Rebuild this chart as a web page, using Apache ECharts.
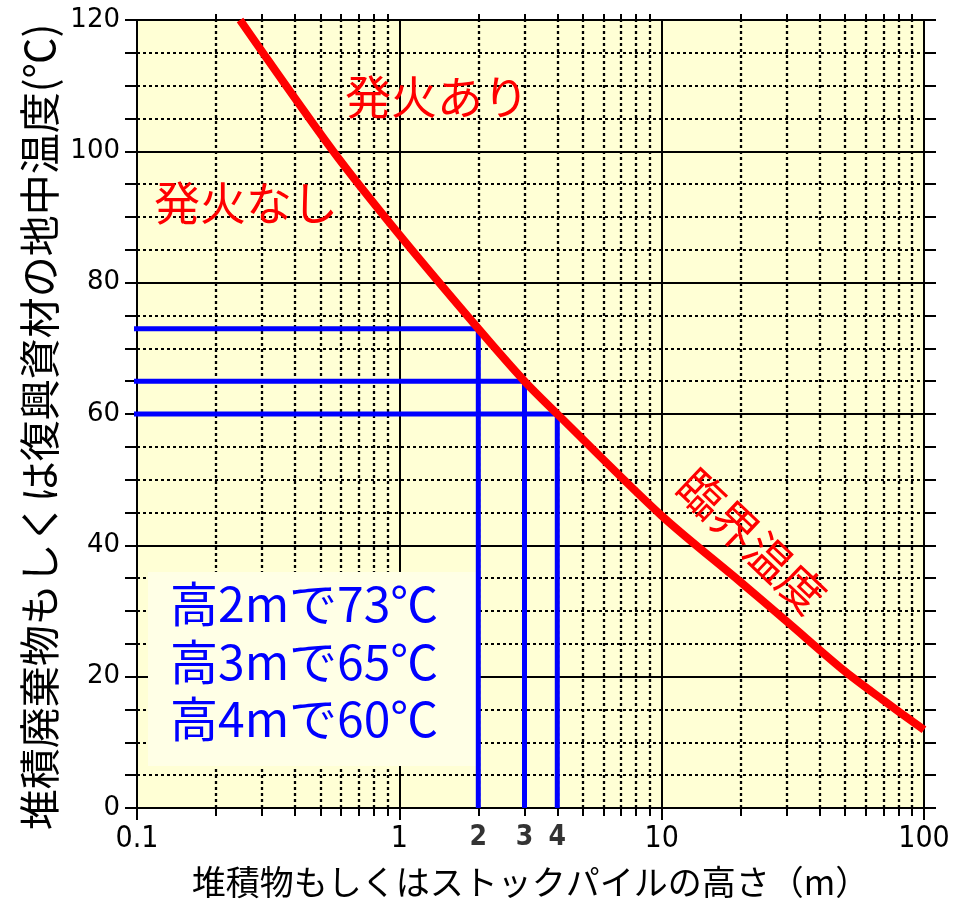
<!DOCTYPE html>
<html lang="ja">
<head>
<meta charset="utf-8">
<title>臨界温度</title>
<script src="https://cdn.jsdelivr.net/npm/echarts@6/dist/echarts.min.js"></script>
<style>
  html, body { margin: 0; padding: 0; background: #ffffff; }
  #chart { width: 961px; height: 905px; }
</style>
</head>
<body>
<div id="chart"></div>
<script>
// Critical temperature curve: pile height (m) vs. internal temperature (°C)
const curveHeight = [0.247, 0.56, 1, 2, 3, 4, 10, 20, 30, 50, 70, 100];
const curveTemp   = [120, 100, 87.3, 73, 65, 60, 44.5, 34.4, 28.4, 20.8, 16.4, 11.9];

// Highlighted pile heights and the temperature
const caseHeight = [2, 3, 4];
const caseTemp   = [73, 65, 60];
const caseLineStart = [0.0885, 0.0885, 0.0966];
const caseTickLabels = ['2', '3', '4'];

// Intermediate decade lines of the logarithmic height axis
const minorHeights = [0.2, 0.3, 0.4, 0.5, 0.6, 0.7, 0.8, 0.9,
                      2, 3, 4, 5, 6, 7, 8, 9,
                      20, 30, 40, 50, 60, 70, 80, 90];

const xTitle = '堆積物もしくはストックパイルの高さ（m）';
const yTitle = '堆積廃棄物もしくは復興資材の地中温度(℃)';
const labelIgnite = '発火あり';
const labelNoIgnite = '発火なし';
const labelCurve = '臨界温度';
const caseNotes = caseHeight.map((h, i) => '高' + h + 'mで' + caseTemp[i] + '℃');

const CJK = '"Noto Sans CJK JP", "Noto Sans", sans-serif';
const NARROW = '"Liberation Sans Narrow", "DejaVu Sans Condensed", "Liberation Sans", sans-serif';
const RED = '#ff0000';
const BLUE = '#0000ff';

const chart = echarts.init(document.getElementById('chart'), null, { renderer: 'canvas' });

const gridLines = minorHeights.map(h => ({ coords: [[h, 0], [h, 120]] }));
const bottomTicks = minorHeights.map(h => ({ coords: [[h, 0], [h, -1.2]] }));
const topTicks = minorHeights.map(h => ({ coords: [[h, 120], [h, 120.9]] }));

const caseSeries = caseHeight.map((h, i) => ({
  type: 'line',
  name: caseNotes[i],
  data: [[caseLineStart[i], caseTemp[i]], [h, caseTemp[i]], [h, 0]],
  showSymbol: false,
  symbol: 'none',
  clip: false,
  z: 6,
  lineStyle: { color: BLUE, width: 5, cap: 'butt', join: 'miter' },
  silent: true
}));

function noteText(text, x, y, color, size, align, rotation) {
  return {
    type: 'text',
    z: 8,
    x: x, y: y,
    rotation: rotation || 0,
    silent: true,
    style: {
      text: text, fill: color, font: size + 'px ' + CJK,
      textAlign: align, textVerticalAlign: 'middle'
    }
  };
}

const option = {
  animation: false,
  backgroundColor: '#ffffff',
  grid: {
    left: 137, right: 37, top: 20, bottom: 97,
    show: true,
    backgroundColor: '#ffffd5',
    borderColor: '#000000',
    borderWidth: 2
  },
  xAxis: [
    {
      type: 'log',
      logBase: 10,
      min: 0.1,
      max: 100,
      position: 'bottom',
      name: xTitle,
      nameLocation: 'middle',
      nameGap: 57,
      nameTextStyle: { fontFamily: CJK, fontSize: 34, color: '#000' },
      axisLine: { show: true, lineStyle: { color: '#000', width: 2 } },
      axisTick: { show: true, length: 12, lineStyle: { color: '#000', width: 2 } },
      axisLabel: {
        margin: 16,
        fontFamily: NARROW,
        fontSize: 30,
        color: '#000',
        formatter: v => String(v)
      },
      splitLine: { show: true, lineStyle: { color: '#000', width: 2 } }
    },
    {
      type: 'log',
      logBase: 10,
      min: 0.1,
      max: 100,
      position: 'top',
      axisLine: { show: true, lineStyle: { color: '#000', width: 2 } },
      axisTick: { show: true, length: 10, lineStyle: { color: '#000', width: 2 } },
      axisLabel: { show: false },
      splitLine: { show: false }
    }
  ],
  yAxis: [
    {
      type: 'value',
      min: 0,
      max: 120,
      interval: 20,
      position: 'left',
      name: yTitle,
      nameLocation: 'middle',
      nameGap: 74,
      nameTextStyle: { fontFamily: CJK, fontSize: 41, color: '#000', padding: [0, 26, 0, 0] },
      axisLine: { show: true, lineStyle: { color: '#000', width: 2 } },
      axisTick: { show: true, length: 12, lineStyle: { color: '#000', width: 2 } },
      minorTick: { show: true, splitNumber: 4, length: 12, lineStyle: { color: '#000', width: 2 } },
      axisLabel: {
        margin: 17,
        fontFamily: '"DejaVu Sans", sans-serif',
        fontSize: 26,
        color: '#000'
      },
      splitLine: { show: true, lineStyle: { color: '#000', width: 2 } },
      minorSplitLine: { show: true, lineStyle: { color: '#000', width: 2, type: [3, 3] } }
    },
    {
      type: 'value',
      min: 0,
      max: 120,
      interval: 20,
      position: 'right',
      axisLine: { show: true, lineStyle: { color: '#000', width: 2 } },
      axisTick: { show: true, length: 12, lineStyle: { color: '#000', width: 2 } },
      minorTick: { show: true, splitNumber: 4, length: 12, lineStyle: { color: '#000', width: 2 } },
      axisLabel: { show: false },
      splitLine: { show: false },
      minorSplitLine: { show: false }
    }
  ],
  graphic: [
    {
      type: 'rect',
      z: 4,
      silent: true,
      shape: { x: 148, y: 572, width: 329, height: 194 },
      style: { fill: '#ffffe6' }
    },
    noteText(caseNotes[0], 170, 604, BLUE, 48, 'left'),
    noteText(caseNotes[1], 170, 662, BLUE, 48, 'left'),
    noteText(caseNotes[2], 170, 719, BLUE, 48, 'left'),
    noteText(labelIgnite, 437, 97, RED, 46, 'center'),
    noteText(labelNoIgnite, 246, 203, RED, 46, 'center'),
    noteText(labelCurve, 752, 541, RED, 46, 'center', -0.76)
  ],
  series: [
    {
      type: 'lines',
      name: 'minor-grid',
      coordinateSystem: 'cartesian2d',
      data: gridLines,
      z: 1,
      silent: true,
      lineStyle: { color: '#000', width: 2.3, type: [3, 3], opacity: 1 }
    },
    {
      type: 'lines',
      name: 'minor-ticks',
      coordinateSystem: 'cartesian2d',
      data: bottomTicks.concat(topTicks),
      clip: false,
      z: 1,
      silent: true,
      lineStyle: { color: '#000', width: 2, opacity: 1 }
    },
    {
      type: 'line',
      name: labelCurve,
      data: curveHeight.map((h, i) => [h, curveTemp[i]]),
      showSymbol: false,
      symbol: 'none',
      smooth: 0.3,
      z: 7,
      silent: true,
      lineStyle: { color: RED, width: 8 }
    },
    ...caseSeries,
    {
      type: 'scatter',
      name: 'case-ticks',
      data: caseHeight.map(h => [h, 0]),
      symbolSize: 0,
      itemStyle: { color: 'transparent' },
      clip: false,
      silent: true,
      z: 9,
      label: {
        show: true,
        position: 'bottom',
        distance: 16,
        formatter: p => caseTickLabels[p.dataIndex],
        fontFamily: NARROW,
        fontWeight: 'bold',
        fontSize: 28,
        color: '#000'
      }
    }
  ]
};

chart.setOption(option);
</script>
</body>
</html>
